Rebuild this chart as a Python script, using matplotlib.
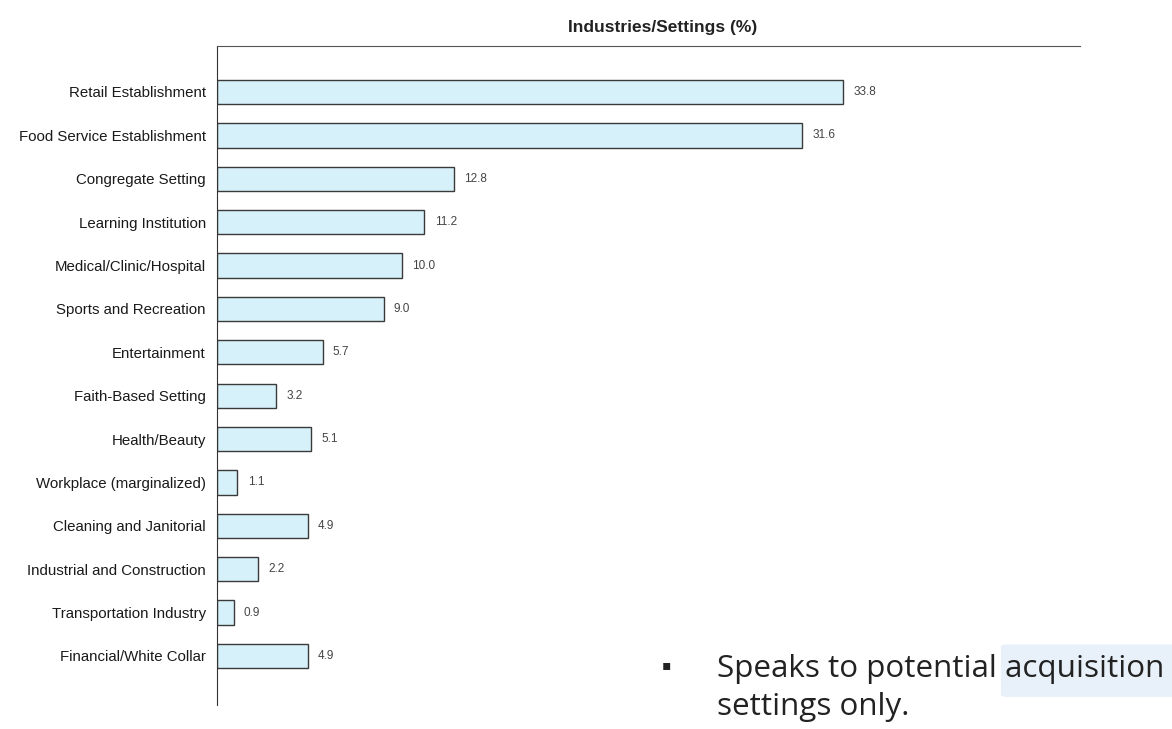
import matplotlib.pyplot as plt
import matplotlib.patches as mpatches
import numpy as np

plt.rcParams['font.family'] = ['Liberation Sans', 'DejaVu Sans']

categories = [
    "Retail Establishment",
    "Food Service Establishment",
    "Congregate Setting",
    "Learning Institution",
    "Medical/Clinic/Hospital",
    "Sports and Recreation",
    "Entertainment",
    "Faith-Based Setting",
    "Health/Beauty",
    "Workplace (marginalized)",
    "Cleaning and Janitorial",
    "Industrial and Construction",
    "Transportation Industry",
    "Financial/White Collar",
]
values = [33.8, 31.6, 12.8, 11.2, 10.0, 9.0, 5.7, 3.2, 5.1, 1.1, 4.9, 2.2, 0.9, 4.9]
value_labels = ["33.8", "31.6", "12.8", "11.2", "10.0", "9.0", "5.7", "3.2", "5.1",
                "1.1", "4.9", "2.2", "0.9", "4.9"]

fig = plt.figure(figsize=(11.72, 7.29), dpi=100)
ax = fig.add_axes([0.1852, 0.0329, 0.7363, 0.904])

y = np.arange(len(categories))
ax.barh(y, values, height=0.56, color="#d6f1f9", edgecolor="#3a3a3a", linewidth=1.0)

for yi, v, lab in zip(y, values, value_labels):
    ax.text(v + 0.55, yi, lab, va="center", ha="left", fontsize=8.5, color="#444444")

ax.set_yticks(y)
ax.set_yticklabels(categories, fontsize=10.8, color="#1a1a1a")
ax.tick_params(axis="y", length=0, pad=8)
ax.set_xticks([])
ax.set_xlim(0, 46.6)
ax.set_ylim(len(categories) - 1 + 1.13, -1.06)

for s in ["right", "bottom"]:
    ax.spines[s].set_visible(False)
ax.spines["left"].set_color("#333333")
ax.spines["top"].set_color("#555555")

fig.text(0.565, 0.9616, "Industries/Settings (%)", ha="center", va="center",
         fontsize=12.5, fontweight="bold", color="#222222")

# faint highlight behind "acquisition"
fig.patches.append(mpatches.FancyBboxPatch((0.858, 0.048), 0.142, 0.064,
                                           boxstyle="round,pad=0.004",
                                           transform=fig.transFigure,
                                           facecolor="#e8f1f9", edgecolor="none", zorder=0))

# bullet note
fig.text(0.569, 0.088, "\u25aa", ha="center", va="center", fontsize=10, color="#222222",
         family=["DejaVu Sans"])
fig.text(0.612, 0.0713, "Speaks to potential acquisition", ha="left", va="baseline",
         fontsize=22.6, color="#222222", family=["Open Sans", "DejaVu Sans"])
fig.text(0.612, 0.0192, "settings only.", ha="left", va="baseline",
         fontsize=22.6, color="#222222", family=["Open Sans", "DejaVu Sans"])

fig.savefig("out.png", dpi=100)
